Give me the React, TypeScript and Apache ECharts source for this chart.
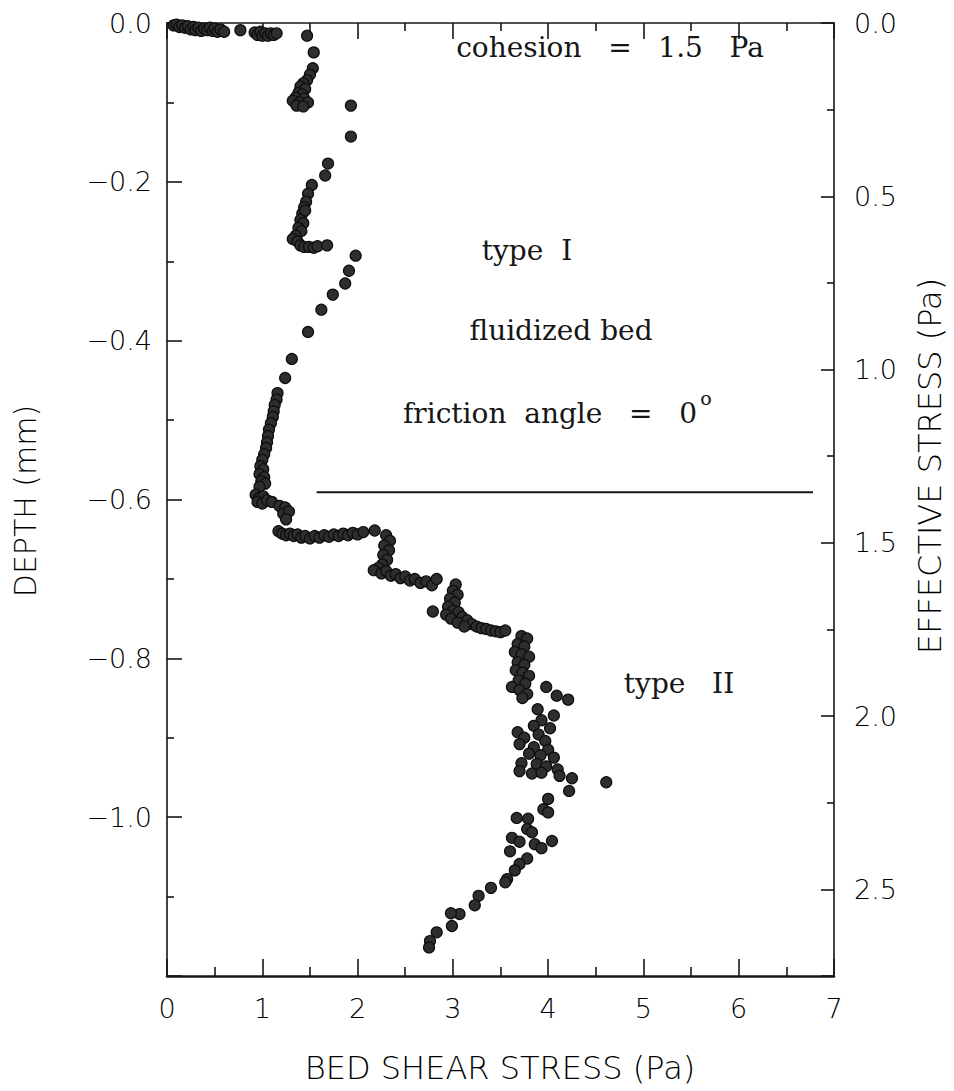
import React, { useEffect, useRef } from "react";
import * as echarts from "echarts";

// [bed shear stress (Pa), depth (mm)]
const points: number[][] = [
  [0.07, -0.003], [0.1, -0.002], [0.13, -0.005], [0.16, -0.003], [0.19, -0.006], [0.22, -0.004],
  [0.25, -0.008], [0.28, -0.005], [0.3, -0.009], [0.33, -0.006], [0.36, -0.01], [0.39, -0.007],
  [0.42, -0.009], [0.45, -0.006], [0.48, -0.01], [0.5, -0.007], [0.53, -0.011], [0.56, -0.008],
  [0.6, -0.011], [0.77, -0.009],
  [0.92, -0.012], [0.95, -0.015], [0.98, -0.011], [1.0, -0.016], [1.03, -0.013], [1.06, -0.016],
  [1.09, -0.013], [1.12, -0.015], [1.15, -0.013],
  [1.47, -0.016], [1.54, -0.037], [1.53, -0.057],
  [1.5, -0.065], [1.47, -0.072], [1.43, -0.076], [1.4, -0.08], [1.45, -0.083], [1.38, -0.088],
  [1.42, -0.09], [1.35, -0.094], [1.44, -0.095], [1.32, -0.098], [1.39, -0.1], [1.48, -0.1],
  [1.36, -0.104], [1.43, -0.105],
  [1.93, -0.104], [1.93, -0.143], [1.69, -0.177], [1.66, -0.192], [1.52, -0.204],
  [1.48, -0.215], [1.46, -0.225], [1.44, -0.232], [1.42, -0.24], [1.45, -0.236], [1.4, -0.248],
  [1.43, -0.252], [1.38, -0.258], [1.41, -0.262], [1.35, -0.268], [1.32, -0.272], [1.37, -0.275],
  [1.4, -0.28], [1.44, -0.282], [1.49, -0.282], [1.54, -0.283], [1.58, -0.281], [1.68, -0.28],
  [1.98, -0.293], [1.91, -0.312], [1.87, -0.328], [1.74, -0.342], [1.62, -0.361], [1.48, -0.389],
  [1.31, -0.423], [1.24, -0.447],
  [1.16, -0.466], [1.15, -0.474], [1.13, -0.481], [1.12, -0.489], [1.11, -0.496], [1.09, -0.504],
  [1.07, -0.512], [1.06, -0.52], [1.05, -0.528], [1.04, -0.535], [1.02, -0.543], [1.0, -0.55],
  [0.98, -0.558], [1.01, -0.562], [0.97, -0.568], [1.02, -0.572], [0.99, -0.577], [1.03, -0.58],
  [0.97, -0.584],
  [0.93, -0.594], [0.97, -0.598], [1.01, -0.596], [0.95, -0.603], [1.0, -0.605], [1.05, -0.601],
  [1.1, -0.603],
  [1.18, -0.608], [1.24, -0.61], [1.22, -0.618], [1.28, -0.615], [1.25, -0.625],
  [1.17, -0.64], [1.21, -0.643], [1.25, -0.645], [1.29, -0.643], [1.33, -0.646], [1.37, -0.644],
  [1.41, -0.648], [1.45, -0.646], [1.5, -0.649], [1.55, -0.646], [1.6, -0.648], [1.65, -0.645],
  [1.7, -0.647], [1.75, -0.644], [1.8, -0.646], [1.85, -0.643], [1.9, -0.645], [1.95, -0.642],
  [2.0, -0.644], [2.06, -0.641], [2.18, -0.639],
  [2.3, -0.645], [2.34, -0.652], [2.28, -0.658], [2.33, -0.664], [2.27, -0.67], [2.31, -0.676],
  [2.26, -0.682], [2.22, -0.686], [2.17, -0.689],
  [2.25, -0.693], [2.3, -0.69], [2.35, -0.696], [2.4, -0.694], [2.45, -0.699], [2.5, -0.697],
  [2.55, -0.702], [2.6, -0.7], [2.66, -0.705], [2.72, -0.703], [2.78, -0.708], [2.83, -0.7],
  [2.79, -0.741],
  [3.03, -0.707], [3.0, -0.715], [3.05, -0.72], [2.97, -0.725], [3.02, -0.73], [2.95, -0.735],
  [3.0, -0.74], [3.06, -0.742], [2.93, -0.745], [3.1, -0.748], [2.98, -0.75], [3.15, -0.752],
  [3.05, -0.755], [3.2, -0.757], [3.12, -0.76], [3.25, -0.76], [3.3, -0.762],
  [3.35, -0.763], [3.4, -0.765], [3.45, -0.766], [3.5, -0.767], [3.55, -0.765],
  [3.72, -0.772], [3.78, -0.775], [3.68, -0.782], [3.75, -0.785], [3.65, -0.792], [3.72, -0.795],
  [3.8, -0.798], [3.68, -0.805], [3.75, -0.808], [3.66, -0.815], [3.73, -0.818], [3.8, -0.822],
  [3.69, -0.828], [3.76, -0.832], [3.62, -0.836], [3.7, -0.84], [3.78, -0.845], [3.73, -0.85],
  [3.98, -0.836], [4.09, -0.847], [4.21, -0.852], [4.06, -0.872], [3.89, -0.864],
  [3.93, -0.878], [3.85, -0.885], [4.02, -0.888], [3.68, -0.893], [3.9, -0.896], [3.75, -0.9],
  [3.97, -0.904], [3.7, -0.908], [3.85, -0.912], [4.0, -0.915], [3.8, -0.92], [3.92, -0.922],
  [4.06, -0.925], [3.72, -0.932], [3.88, -0.933], [3.98, -0.936], [4.1, -0.94], [3.7, -0.942],
  [3.83, -0.945], [3.93, -0.944], [4.12, -0.948],
  [4.25, -0.951], [4.22, -0.967], [4.61, -0.956], [4.0, -0.977], [3.95, -0.99], [4.0, -0.994],
  [3.67, -1.001], [3.79, -1.002], [3.78, -1.015], [3.83, -1.019], [3.62, -1.026], [3.7, -1.031],
  [3.86, -1.034], [3.93, -1.039], [4.04, -1.03], [3.6, -1.043], [3.78, -1.052], [3.7, -1.059],
  [3.65, -1.067], [3.57, -1.078], [3.55, -1.082], [3.4, -1.089], [3.27, -1.099], [3.23, -1.111],
  [3.07, -1.122], [2.98, -1.121], [2.99, -1.137], [2.83, -1.145], [2.76, -1.156], [2.75, -1.164],
];

// horizontal boundary line between type I and type II
const boundaryLine: number[][] = [
  [1.57, -0.591],
  [6.78, -0.591],
];

const xTicks = [0, 1, 2, 3, 4, 5, 6, 7];
const depthRange = [-1.2, 0];
const effStressRange = [0, 2.75];

const annotations = [
  { text: "cohesion   =   1.5   Pa", x: 610, y: 47 },
  { text: "type  I", x: 527, y: 250 },
  { text: "fluidized bed", x: 561, y: 330 },
  { text: "friction  angle   =   0", x: 550, y: 413 },
  { text: "type   II", x: 679, y: 683 },
];

const SANS = "DejaVu Sans";
const SERIF = "DejaVu Serif";
const INK = "#161616";

export default function App() {
  const ref = useRef<HTMLDivElement>(null);
  useEffect(() => {
    if (!ref.current) return;
    const chart = echarts.init(ref.current, null, { renderer: "svg" });
    const axisLabelStyle = { fontFamily: SANS, fontSize: 27, color: "#000", fontWeight: 300 as any };
    const fmtDepth = (v: number) => {
      if (v < -1.1) return "";
      const s = v.toFixed(1);
      return s.replace("-", "\u2212");
    };
    const lineStyle = { color: INK, width: 1.6 };
    chart.setOption({
      animation: false,
      backgroundColor: "#ffffff",
      grid: { left: 167, top: 23, width: 667, height: 953, containLabel: false },
      xAxis: [
        {
          type: "value",
          position: "bottom",
          min: xTicks[0],
          max: xTicks[xTicks.length - 1],
          interval: 1,
          axisLine: { show: true, onZero: false, lineStyle: { color: INK, width: 2.5 } },
          axisTick: { show: true, inside: true, length: 17, lineStyle },
          minorTick: { show: true, splitNumber: 2, length: 9, lineStyle },
          axisLabel: { ...axisLabelStyle, margin: 19 },
          splitLine: { show: false },
        },
        {
          type: "value",
          position: "top",
          min: xTicks[0],
          max: xTicks[xTicks.length - 1],
          interval: 1,
          axisLine: { show: true, onZero: false, lineStyle },
          axisTick: { show: true, inside: true, length: 16, lineStyle },
          minorTick: { show: true, splitNumber: 2, length: 8, lineStyle },
          axisLabel: { show: false },
          splitLine: { show: false },
        },
      ],
      yAxis: [
        {
          type: "value",
          position: "left",
          min: depthRange[0],
          max: depthRange[1],
          interval: 0.2,
          axisLine: { show: true, onZero: false, lineStyle },
          axisTick: { show: true, inside: true, length: 15, lineStyle },
          minorTick: { show: true, splitNumber: 2, length: 7, lineStyle },
          axisLabel: { ...axisLabelStyle, margin: 15, formatter: fmtDepth },
          splitLine: { show: false },
        },
        {
          type: "value",
          position: "right",
          min: effStressRange[0],
          max: effStressRange[1],
          inverse: true,
          interval: 0.5,
          axisLine: { show: true, onZero: false, lineStyle },
          axisTick: { show: true, inside: true, length: 13, lineStyle },
          minorTick: { show: true, splitNumber: 2, length: 7, lineStyle },
          axisLabel: {
            ...axisLabelStyle,
            margin: 20,
            showMaxLabel: false,
            formatter: (v: number) => (v > 2.6 ? "" : v.toFixed(1)),
          },
          splitLine: { show: false },
        },
      ],
      series: [
        {
          type: "scatter",
          xAxisIndex: 0,
          yAxisIndex: 0,
          data: points,
          symbol: "circle",
          symbolSize: 11,
          itemStyle: { color: "#2e2e2e", borderColor: "#0d0d0d", borderWidth: 1.2, opacity: 1 },
          silent: true,
        },
        {
          type: "line",
          xAxisIndex: 0,
          yAxisIndex: 0,
          data: boundaryLine,
          symbol: "none",
          lineStyle: { color: INK, width: 2 },
          silent: true,
        },
      ],
      graphic: [
        ...annotations.map((a) => ({
          type: "text",
          x: a.x,
          y: a.y,
          style: {
            text: a.text,
            font: `28px "${SERIF}"`,
            fill: INK,
            align: "center",
            verticalAlign: "middle",
          },
        })),
        {
          type: "text",
          x: 706,
          y: 398,
          style: { text: "o", font: `19px "${SERIF}"`, fill: INK, align: "center", verticalAlign: "middle" },
        },
        {
          type: "text",
          x: 500,
          y: 1068,
          style: { text: "BED SHEAR STRESS (Pa)", font: `300 32px "${SANS}"`, fill: "#000", align: "center", verticalAlign: "middle" },
        },
        {
          type: "text",
          x: 25,
          y: 501,
          rotation: Math.PI / 2,
          style: { text: "DEPTH (mm)", font: `300 30px "${SANS}"`, fill: "#000", align: "center", verticalAlign: "middle" },
        },
        {
          type: "text",
          x: 930,
          y: 466,
          rotation: Math.PI / 2,
          style: { text: "EFFECTIVE STRESS (Pa)", font: `300 32px "${SANS}"`, fill: "#000", align: "center", verticalAlign: "middle" },
        },
      ],
    });
    return () => chart.dispose();
  }, []);
  return (
    <div
      ref={ref}
      style={{ position: "fixed", left: 0, top: 0, width: 954, height: 1091, background: "#fff" }}
    />
  );
}
